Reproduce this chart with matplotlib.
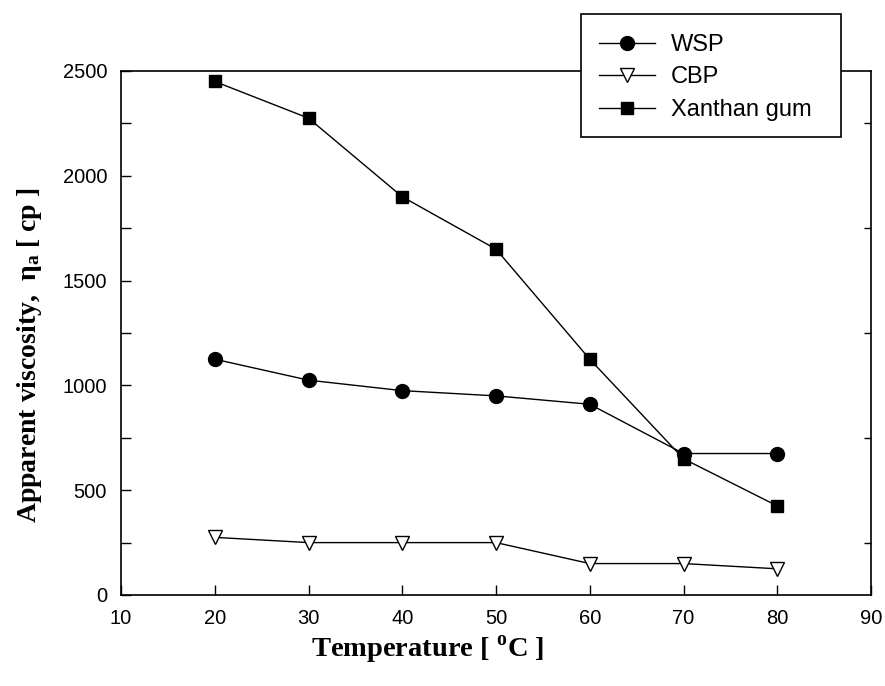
import matplotlib
matplotlib.use("Agg")
import matplotlib.pyplot as plt
from matplotlib.patches import Rectangle
from matplotlib.ticker import MultipleLocator, FixedLocator, NullLocator

temperature = [20, 30, 40, 50, 60, 70, 80]
wsp = [1125, 1025, 975, 950, 910, 675, 675]
cbp = [275, 250, 250, 250, 150, 150, 125]
xanthan = [2450, 2275, 1900, 1650, 1125, 650, 425]

x_ticks = [10, 20, 30, 40, 50, 60, 70, 80, 90]
y_ticks = [0, 500, 1000, 1500, 2000, 2500]

plt.rcParams['font.family'] = ['Liberation Sans', 'DejaVu Sans']

W, H = 885, 686
fig = plt.figure(figsize=(W / 100, H / 100), dpi=100)
ax = fig.add_axes([121 / W, 1 - 595 / H, 750 / W, 524 / H])

lw = 1.0
ax.plot(temperature, wsp, color='black', lw=lw, marker='o', ms=10,
        mfc='black', mec='black', label='WSP', zorder=3)
ax.plot(temperature, cbp, color='black', lw=lw, marker='v', ms=9.5,
        mfc='white', mec='black', mew=1.0, label='CBP', zorder=3)
ax.plot(temperature, xanthan, color='black', lw=lw, marker='s', ms=8.5,
        mfc='black', mec='black', label='Xanthan gum', zorder=3)

ax.set_xlim(10, 90)
ax.set_ylim(0, 2500)
ax.xaxis.set_major_locator(FixedLocator(x_ticks))
ax.yaxis.set_major_locator(FixedLocator(y_ticks))
ax.yaxis.set_minor_locator(MultipleLocator(250))
ax.xaxis.set_minor_locator(NullLocator())

ax.tick_params(axis='both', which='major', direction='in', length=7,
               width=1.0, labelsize=14.5, color='black')
ax.tick_params(axis='y', which='major', pad=10)
ax.tick_params(axis='x', which='major', pad=10)
ax.tick_params(axis='y', which='minor', direction='in', length=7, width=1.0)

for s in ax.spines.values():
    s.set_linewidth(1.2)

# right axis: short inward ticks at odd multiples of 250
ax_r = ax.twinx()
ax_r.set_ylim(0, 2500)
ax_r.yaxis.set_major_locator(FixedLocator([250, 750, 1250, 1750, 2250]))
ax_r.tick_params(axis='y', direction='in', length=5, width=1.0, labelright=False)
for s in ax_r.spines.values():
    s.set_visible(False)

fig.text(428 / W, 1 - 650 / H, 'Temperature [ $^{\\mathregular{o}}$C ]',
         family='Liberation Serif', fontweight='bold', fontsize=20.5,
         ha='center', va='center')
fig.text(30 / W, 1 - 355 / H, 'Apparent viscosity,  $\\mathregular{\\eta_a}$ [ cp ]',
         family='Liberation Serif', fontweight='bold', fontsize=20,
         ha='center', va='center', rotation=90)

# legend box, white-filled so it covers the top spine
box = Rectangle((581 / W, 1 - 137 / H), 260 / W, 123 / H,
                transform=fig.transFigure, facecolor='white', edgecolor='black',
                linewidth=1.2, zorder=9)
fig.add_artist(box)

handles, labels = ax.get_legend_handles_labels()
leg = fig.legend(handles, labels, loc='upper left',
                 bbox_to_anchor=(579 / W, 1 - 14 / H), bbox_transform=fig.transFigure,
                 frameon=False, fontsize=17,
                 handlelength=2.37, handletextpad=0.68, labelspacing=0.44,
                 borderpad=0.85, borderaxespad=0.0)
leg.set_zorder(10)

fig.savefig('out.png', dpi=100)
